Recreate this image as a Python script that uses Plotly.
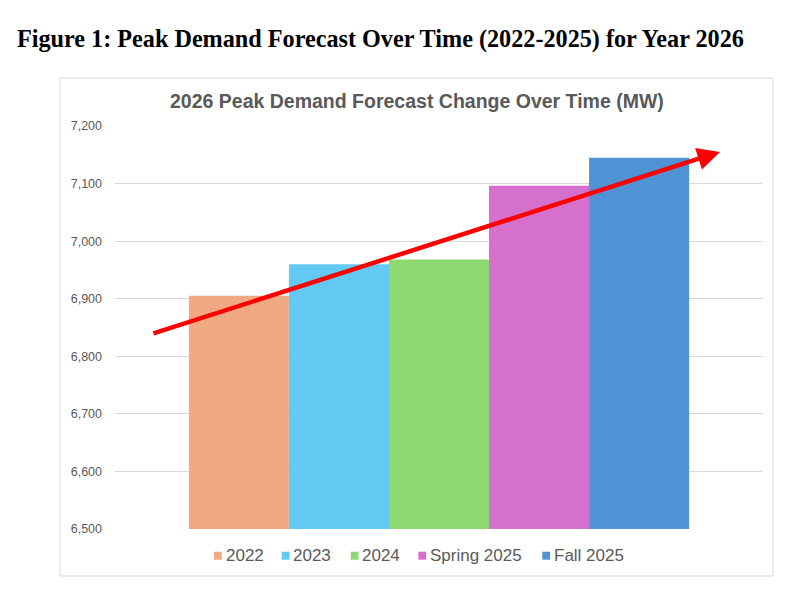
import plotly.graph_objects as go

categories = ["2022", "2023", "2024", "Spring 2025", "Fall 2025"]
values = [6905, 6960, 6968, 7096, 7145]
colors = ["#F1A984", "#62C9F3", "#8ED872", "#D670CD", "#4F93D5"]
y_ticks = [6500, 6600, 6700, 6800, 6900, 7000, 7100, 7200]

# page offset of the plot inside the browser window (body margin)
OFF = 8
W, H = 799 - 2 * OFF, 601 - 2 * OFF
# plot area in screen pixels
L, R, T, B = 115, 763, 126, 529
pw, ph = R - L, B - T

def px(xp):
    return (xp - L) / pw

def py(yp):
    return (B - yp) / ph

fig = go.Figure()
for c, v, col in zip(categories, values, colors):
    fig.add_trace(go.Bar(x=[0], y=[v], name=c, marker=dict(color=col, line=dict(width=0)),
                         hoverinfo="name+y", showlegend=False))

fig.update_layout(
    width=W, height=H,
    margin=dict(l=L - OFF, r=(W + OFF) - R, t=T - OFF, b=(H + OFF) - B, pad=0),
    paper_bgcolor="white", plot_bgcolor="white",
    barmode="group", bargap=0.228, bargroupgap=0,
    showlegend=False,
    xaxis=dict(range=[-0.5, 0.5], showticklabels=False, showgrid=False, zeroline=False,
               showline=False, ticks="", fixedrange=True),
    yaxis=dict(range=[6500, 7200], tickvals=y_ticks, tickformat=",", showgrid=True,
               gridcolor="#D9D9D9", gridwidth=1, zeroline=False, showline=False, ticks="",
               tickfont=dict(family="Liberation Sans, Arial", size=12.5, color="#595959"),
               ticklabelstandoff=12),
    font=dict(family="Liberation Sans, Arial"),
)

# chart box border
fig.add_shape(type="rect", xref="paper", yref="paper",
              x0=px(60), x1=px(773), y0=py(576), y1=py(78),
              line=dict(color="#D9D9D9", width=1), layer="below")

# figure caption
fig.add_annotation(xref="paper", yref="paper", x=px(15), y=py(39), xanchor="left", yanchor="middle",
                   text="<b>Figure 1: Peak Demand Forecast Over Time (2022-2025) for Year 2026</b>",
                   showarrow=False, font=dict(family="Liberation Serif, Times New Roman", size=24.2, color="black"))

# chart title
fig.add_annotation(xref="paper", yref="paper", x=px(417), y=py(101), xanchor="center", yanchor="middle",
                   text="<b>2026 Peak Demand Forecast Change Over Time (MW)</b>",
                   showarrow=False, font=dict(family="Liberation Sans, Arial", size=19.5, color="#595959"))

# legend (custom, compact like the original)
legend_sq_x = [214, 281.7, 350.7, 418.3, 542.3]
leg_y = 555.7
for c, col, sx in zip(categories, colors, legend_sq_x):
    fig.add_shape(type="rect", xref="paper", yref="paper",
                  x0=px(sx), x1=px(sx + 7.8), y0=py(leg_y + 4), y1=py(leg_y - 4),
                  fillcolor=col, line=dict(width=0))
    fig.add_annotation(xref="paper", yref="paper", x=px(sx + 10.5), y=py(leg_y), xanchor="left",
                       yanchor="middle", text=c, showarrow=False, borderpad=0,
                       font=dict(family="Liberation Sans, Arial", size=17, color="#595959"))

# trend arrow
arrow_start = (-0.443, 6839)
arrow_end = (0.4336, 7155)
fig.add_annotation(x=arrow_end[0], y=arrow_end[1], ax=arrow_start[0], ay=arrow_start[1],
                   xref="x", yref="y", axref="x", ayref="y", text="", showarrow=True,
                   arrowhead=2, arrowsize=1.0, arrowwidth=4.5, arrowcolor="#FF0000")

fig.write_html("out.html")
